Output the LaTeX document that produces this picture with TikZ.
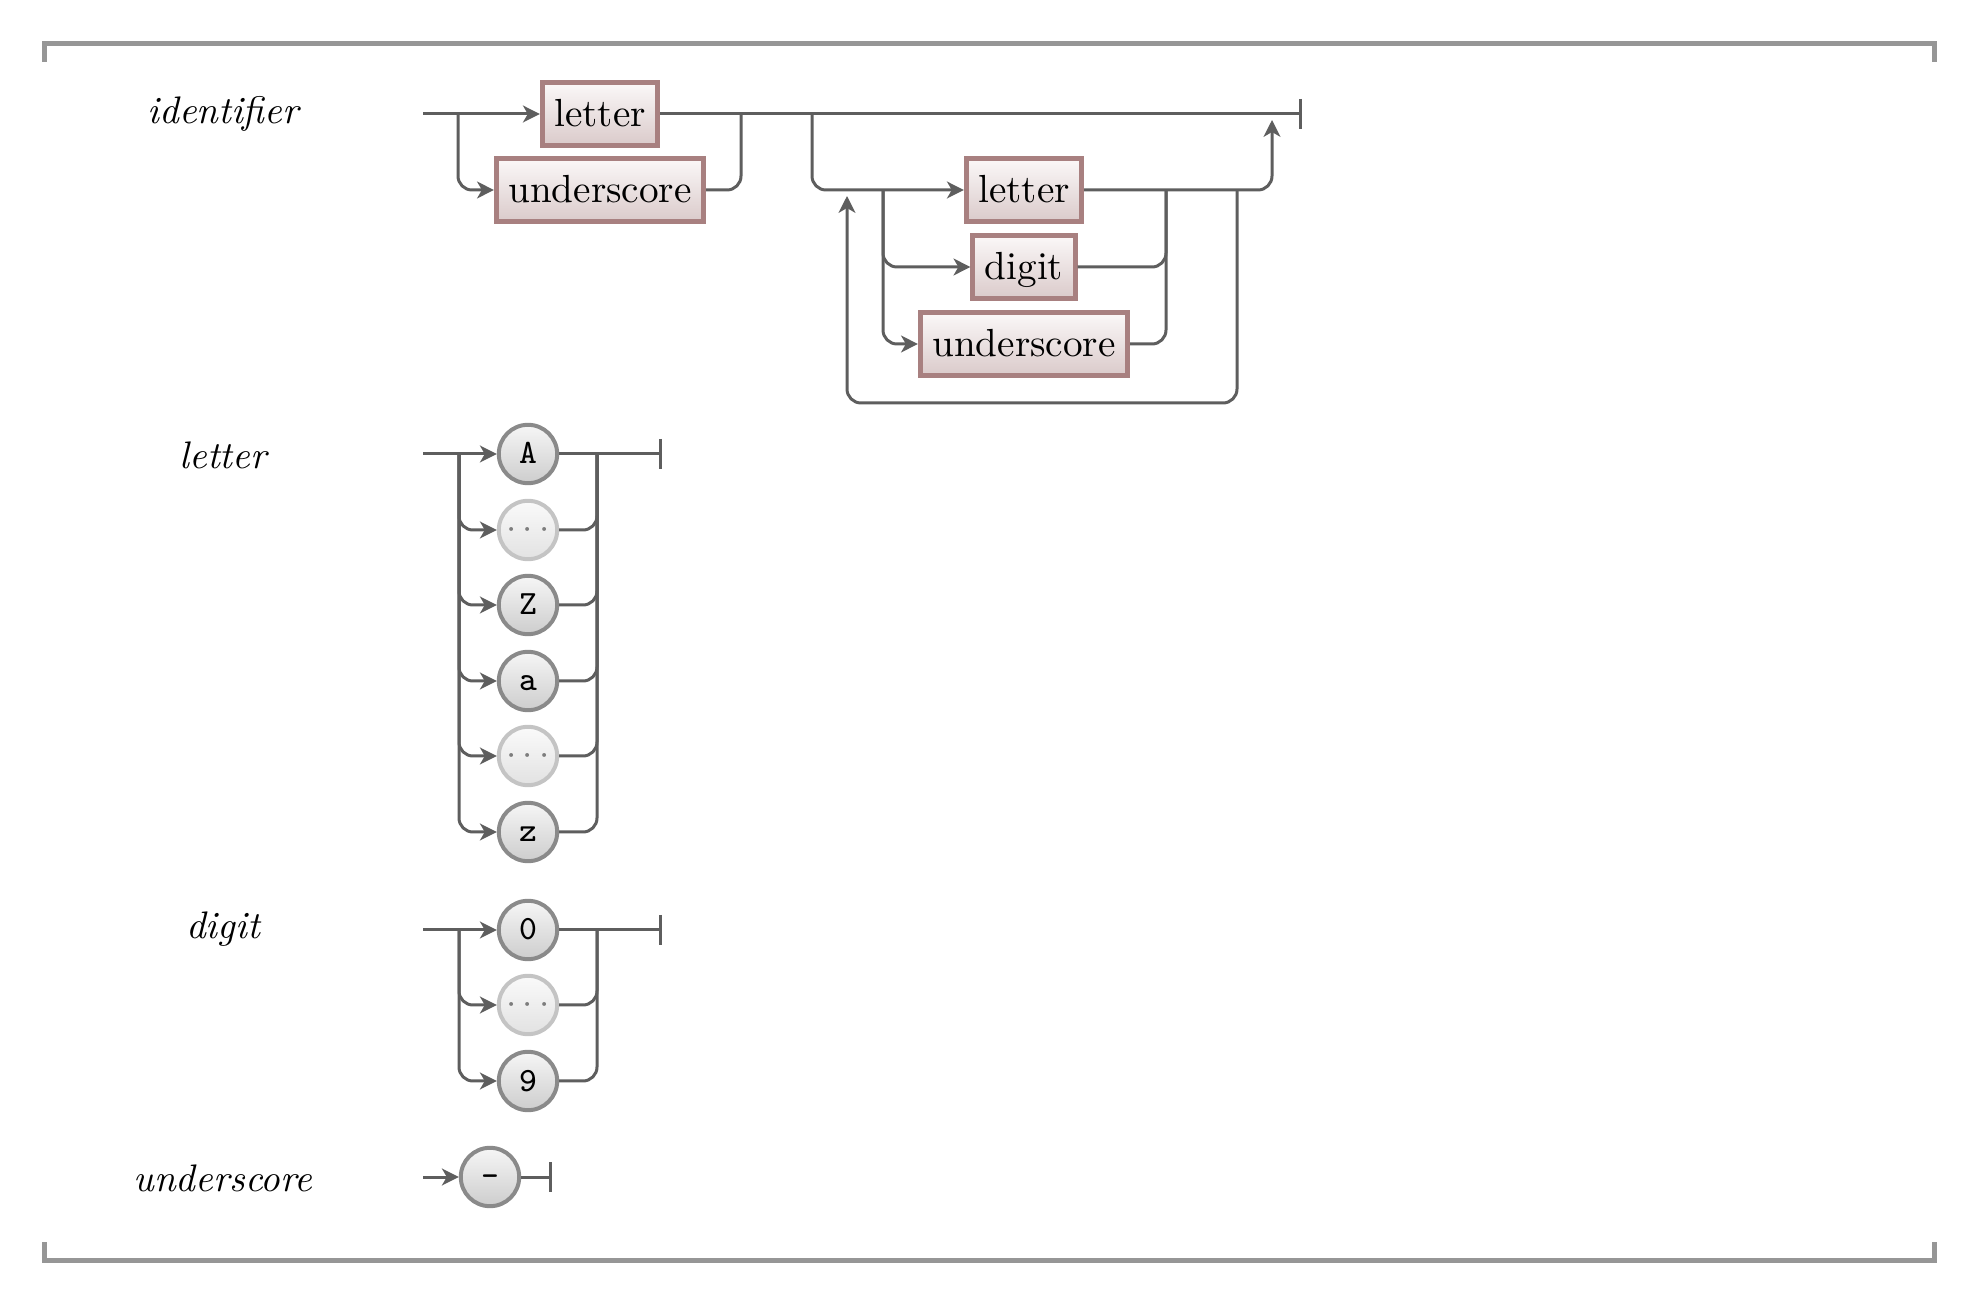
\documentclass[tikz,border=0pt]{standalone}
\usetikzlibrary{arrows.meta}
\definecolor{conn}{RGB}{94,94,94}
\definecolor{boxborder}{RGB}{168,128,128}
\definecolor{boxtop}{RGB}{251,248,248}
\definecolor{boxbot}{RGB}{218,202,202}
\definecolor{circborder}{RGB}{138,138,138}
\definecolor{circtop}{RGB}{246,246,246}
\definecolor{circbot}{RGB}{205,205,205}
\definecolor{dotborder}{RGB}{196,196,196}
\definecolor{dottop}{RGB}{250,250,250}
\definecolor{dotbot}{RGB}{226,226,226}
\definecolor{dottext}{RGB}{125,125,125}
\definecolor{framecol}{RGB}{150,150,150}
\begin{document}
\begin{tikzpicture}[x=0.25pt,y=-0.25pt,
  line/.style={draw=conn,line width=0.75pt,rounded corners=3.5pt},
  arr/.style={line,-{Stealth[length=4.2pt,width=4.2pt,inset=1.2pt]}},
  endbar/.style={line,-{Bar[width=7.5pt]}},
  ntbox/.style={draw=boxborder,line width=1.2pt,top color=boxtop,bottom color=boxbot,
    minimum height=14.5pt,inner xsep=3pt,text height=7.8pt,text depth=1.4pt,
    font=\fontsize{9.8}{12}\selectfont},
  tcirc/.style={circle,draw=circborder,line width=1pt,top color=circtop,bottom color=circbot,
    minimum size=14.6pt,inner sep=0pt,text height=5pt,text depth=0pt,
    font=\fontsize{8.5}{10}\ttfamily},
  dcirc/.style={circle,draw=dotborder,line width=1pt,top color=dottop,bottom color=dotbot,
    minimum size=14.6pt,inner sep=0pt,text=dottext,
    font=\fontsize{9}{10}\selectfont},
  rulename/.style={font=\fontsize{9.6}{12}\itshape},
  framel/.style={draw=framecol,line width=1.25pt}
]
\useasboundingbox (0,0) rectangle (1973,1304);
% frame
\draw[framel] (44,62) -- (44,44) -- (1934,44) -- (1934,62);
\draw[framel] (44,1242) -- (44,1260) -- (1934,1260) -- (1934,1242);

% ---------- identifier ----------
\node[rulename] (nid) at (223,114) {identifier};
\coordinate (s1) at (423,114);
\coordinate (j1) at (458,114);
\coordinate (j2) at (741,114);
\coordinate (j3) at (812,114);
\coordinate (e1) at (1302,114);
\node[ntbox] (L1) at (600,114) {letter};
\node[ntbox] (U1) at (600,190) {underscore};
\draw[arr] (s1) -- (L1.west);
\draw[arr] (j1) |- (U1.west);
\draw[line] (U1.east) -| (j2);
\draw[endbar] (L1.east) -- (e1);

\node[ntbox] (L2) at (1024,190) {letter};
\node[ntbox] (D2) at (1024,267) {digit};
\node[ntbox] (U2) at (1024,344) {underscore};
\coordinate (j4) at (883,190);
\coordinate (c1) at (1166,190);
\coordinate (r1) at (1272,120);
\coordinate (lb1) at (1237,190);
\coordinate (lb2) at (1237,403);
\coordinate (lb3) at (847,403);
\coordinate (lb4) at (847,196);
\draw[arr] (j3) |- (L2.west);
\draw[arr] (j4) |- (D2.west);
\draw[arr] (j4) |- (U2.west);
\draw[line] (D2.east) -| (c1);
\draw[line] (U2.east) -| (c1);
\draw[arr] (L2.east) -| (r1);
\draw[arr] (lb1) -- (lb2) -- (lb3) -- (lb4);

% ---------- letter ----------
\node[rulename] (nle) at (223,455) {letter};
\coordinate (s2) at (423,454);
\coordinate (j5) at (459,454);
\coordinate (c2) at (597,454);
\coordinate (e2) at (662,454);
\node[tcirc] (cA) at (528,454) {A};
\node[dcirc] (cd1) at (528,530) {$\cdots$};
\node[tcirc] (cZ) at (528,605) {Z};
\node[tcirc] (ca) at (528,681) {a};
\node[dcirc] (cd2) at (528,756) {$\cdots$};
\node[tcirc] (cz) at (528,832) {z};
\draw[arr] (s2) -- (cA.west);
\foreach \n in {cd1,cZ,ca,cd2,cz}{
  \draw[arr] (j5) |- (\n.west);
  \draw[line] (\n.east) -| (c2);
}
\draw[endbar] (cA.east) -- (e2);

% ---------- digit ----------
\node[rulename] (ndi) at (223,929) {digit};
\coordinate (s3) at (423,930);
\coordinate (j6) at (459,930);
\coordinate (c3) at (597,930);
\coordinate (e3) at (662,930);
\node[tcirc] (c0) at (528,930) {0};
\node[dcirc] (cd3) at (528,1005) {$\cdots$};
\node[tcirc] (c9) at (528,1081) {9};
\draw[arr] (s3) -- (c0.west);
\foreach \n in {cd3,c9}{
  \draw[arr] (j6) |- (\n.west);
  \draw[line] (\n.east) -| (c3);
}
\draw[endbar] (c0.east) -- (e3);

% ---------- underscore ----------
\node[rulename] (nun) at (223,1178) {underscore};
\coordinate (s4) at (423,1177);
\coordinate (e4) at (552,1177);
\node[tcirc] (cu) at (490,1177) {-};
\draw[arr] (s4) -- (cu.west);
\draw[endbar] (cu.east) -- (e4);
\end{tikzpicture}
\end{document}
